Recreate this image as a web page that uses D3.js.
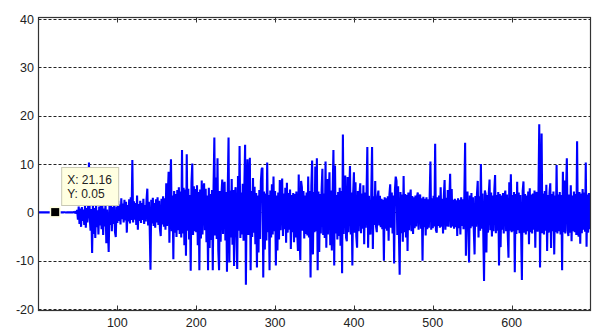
<!DOCTYPE html>
<html>
<head>
<meta charset="utf-8">
<script src="https://cdn.jsdelivr.net/npm/d3@7"></script>
<style>
  body { margin: 0; background: #fff; }
  svg { display: block; font-family: "Liberation Sans", Arial, sans-serif; }
</style>
</head>
<body>
<div id="chart"></div>
<script>
// tick values
const xTicks = [100, 200, 300, 400, 500, 600];
const yTicks = [-20, -10, 0, 10, 20, 30, 40];

// datatip
const tipX = 21.16;
const tipY = 0.05;

// signal, one sample per x unit starting at x = 0
const signalStart = 0;
const signal = [
  0,0,0.01,0,-0.01,0,0.02,0,0,0.01,0,-0.01,0,0,0.02,0,0,0.01,0,0,
  0.03,0.05,0.04,0,-0.02,0.01,0,0.02,0,-0.01,0,0.01,0,0.03,0,-0.02,0,0.01,0,0,
  0,0.02,0,-0.03,0.05,0,-0.1,0.2,-0.3,0.5,-1.5,1.2,-2.4,0.8,-3,1.1,-1.8,0.6,-2.6,1.4,
  -3.2,0.9,-2.1,1.5,10.3,-1.2,-3.8,0.7,-8.4,1.6,-4.5,0.9,-5.3,1.8,-3.1,0.4,-4.6,1.2,-2.7,2.1,
  -3.5,1.3,-4.7,0.8,-2.9,1.9,-6.4,0.6,-3.3,-8.2,1.4,-2.6,2.2,-3.9,1.1,-2.4,1.7,-4.1,-5.1,1.2,
  -2.2,2.4,-1.8,1.6,-2.5,2.9,-1.4,1.8,-2.1,2.6,-1.7,2.2,-4.2,1.5,-1.9,2.7,-2.3,3.1,-1.6,10.8,
  -2.1,2.3,-1.5,1.9,-2.6,3.5,-3.6,1.7,-1.8,2.4,-2.2,1.9,-1.6,2.8,-2.4,1.5,-1.9,2.6,4.9,-2.7,
  2.2,-3.1,-11.9,2.6,-2.3,3,-2.8,1.9,-3.2,2.7,-2.1,3.1,-2.6,2.4,-3.4,-4.9,2.8,-2.5,3.3,-3,
  2.9,-3.6,6,-2.8,3.7,8.4,-6.3,4.1,11,-3.9,3.5,-9.7,4.4,-4.2,3.8,-5.1,4.6,-3.7,5.2,-4.5,
  4.3,-5.2,12.9,-4.4,5.1,-6.8,4.7,-9,12,-3.8,4.9,-5.6,3.6,-12.1,6.2,10.1,-4.7,5.4,-3.9,4.8,
  -4.1,5.6,-6.8,4.2,-12,4.7,-5.4,6.6,-4.6,4.4,6,-3.7,4.9,-6.2,3.5,-12,5.1,-7.4,3.8,-5.7,
  4.6,-12,5.3,15.5,-4.8,7.2,-5.5,11.2,-7.8,-12,4.4,-6.1,3.7,6.8,-4.5,5,6.3,-5.8,4.2,-12.3,
  4.8,15.5,-10.4,4.5,-5.2,6.9,-6.7,4.6,-11.1,3.8,5.2,-4.4,-11.7,7.5,-3.8,13.7,-5.3,4.1,-4.6,5.9,
  -5.9,4.9,14,-15,4.2,11,-4.7,6.2,11.3,-12,4.4,-5.1,7.1,-4.2,5.3,-6.6,4,-11.4,3.5,-8.3,
  4.6,-5.5,6.4,9,9.2,-13.5,4.3,-7.7,3.9,-5.8,10.3,-4.1,3.6,-12,4.5,-5.2,5.8,-4.6,7.4,-3.9,
  4.4,-11,3.5,-7.9,4.1,-5.6,6.7,-3.7,4.6,7,-4.9,3.9,-3.5,5.1,-6.3,6.1,-4.2,4,-3.6,4.7,
  -7.6,3.6,-4.1,4,-6.2,3.8,-5.2,4.3,-3.7,-8,7.8,-4.6,-9.9,6.5,5.2,-3.8,4.4,-5.4,3.5,-4.5,
  4.1,-4.8,7.4,-5.2,4.4,-13.5,5.4,10.7,-8.7,4.2,-4.1,9.5,-3.9,11.2,-12,4.3,-8.2,3.8,-4.4,4.6,
  9,-4.7,3.9,-5.3,10.5,-7.3,6.9,-4.6,3.7,8.3,-6.8,4.5,-7.9,4,12.9,-11,9.7,-4.4,3.6,-5.6,
  4.2,-4.9,5.1,-6.9,4.4,-12.6,16.1,-4.5,3.9,7.6,-5.2,-6,7.3,-4.1,3.7,9.6,-4.6,4.1,-11,3.8,
  8.3,-4.2,6.2,-5,-7.3,4.4,-3.9,3.5,6,-4.3,3.9,-3.4,5.6,-6.6,4.1,-3.2,3.7,13.5,-7.3,3.4,
  -2.8,-4.6,3.9,13.5,-7.6,3.3,-2.6,6.5,-2.9,-4.1,3.2,4.5,-2.7,3.4,-3.1,2.8,-3.5,2.6,-10,3.1,
  -3.4,2.9,-3.8,3.3,-5.9,3.6,5.8,-3.2,4.1,-4.4,3.5,-10.6,4.6,7.4,6.5,-4.7,5.4,-3.9,-12.9,4.2,
  -4.3,3.7,-6.1,7.5,-4.1,3.8,-5.2,3.6,-8,4.1,-3.7,3.2,4.7,-3.9,3.4,-4.5,3.1,-3.3,3.5,-2.9,
  3.3,4.1,-3.6,3,3.7,-3.4,2.9,-10,3.2,-3.1,2.8,-4.8,3.1,-3.5,2.7,-3.2,3,10.5,-3.6,2.9,
  -3.3,3.4,-2.9,14.2,-3.7,-4.2,3.1,-2.8,3.5,-3.2,5.2,-3,2.8,-4.4,3.3,6.7,-3.6,3,-2.9,4.6,
  -3,2.7,8,-3.2,4.8,-2.9,2.6,-3.4,2.8,-3.1,2.5,-4.9,2.9,-3.3,2.6,-4.6,3.1,-2.8,2.7,-3.5,
  3.2,14.4,-9,2.8,4.3,-3.1,-10.4,3.5,-3.3,4,-2.9,3.1,-3.6,-8.7,3.4,-3,3.7,6.5,-5.2,3.3,
  -3.8,10,-3.4,3.9,-4.1,-14.2,4.5,3.8,-8.3,3.6,-4.2,3.9,6.8,-3.7,4.1,-5,3.5,-3.9,4.4,7.7,
  -4.3,3.6,-3.8,4.2,-11,3.8,-7.2,3.5,-3.6,4,-4.4,3.3,4.5,-3.9,3.7,-4.2,-9.4,6.2,-3.8,7.9,
  -4.1,3.6,-3.9,4.2,-12.4,3.8,-4.5,6.3,-3.7,4.1,-4.3,3.6,-3.9,-14,4.4,6.4,-4.2,3.8,-4.6,3.5,
  -3.9,4.3,-6.6,5,-4.1,3.7,-4.4,3.9,-3.6,4.5,-7.3,3.8,4.2,-4,3.6,18.2,-11.4,4.1,16.3,-4.3,
  3.9,-4.6,4.4,-3.8,5.7,-8,3.6,-4.2,4.1,6,-7.4,3.8,-3.9,4.3,-8.7,3.5,-4.1,9.8,-4.4,3.7,
  -3.9,4.2,-4.6,3.6,-12,8.4,-4.1,6.6,-4.4,4.1,11.2,-3.8,-4.9,3.7,-4.2,5.6,-6,3.5,-3.9,4.3,
  -4.1,3.8,-4.7,14.7,-3.9,-5,4.2,-6.5,3.9,-4.3,4.8,-3.6,4.1,-4,10.3,-7.1,3.7,-4.2,4,-3.5,
  3.2
];

const width = 595;
const height = 329;
const box = {left: 38.5, right: 590.5, top: 17.5, bottom: 310.5};

const x = d3.scaleLinear().domain([0, 700]).range([box.left, box.right]);
const y = d3.scaleLinear().domain([-20, 40]).range([309, 19]);

const svg = d3.select("#chart").append("svg")
  .attr("width", width)
  .attr("height", height);

// horizontal dashed grid
svg.append("g")
  .selectAll("line")
  .data(yTicks)
  .join("line")
  .attr("x1", box.left)
  .attr("x2", box.right)
  .attr("y1", d => Math.round(y(d)) + 0.5)
  .attr("y2", d => Math.round(y(d)) + 0.5)
  .attr("stroke", "#222")
  .attr("stroke-width", 1)
  .attr("stroke-dasharray", "3,2");

// the signal
const clip = svg.append("defs").append("clipPath").attr("id", "plot");
clip.append("rect")
  .attr("x", box.left).attr("y", box.top)
  .attr("width", box.right - box.left).attr("height", box.bottom - box.top);

const line = d3.line()
  .x((d, i) => x(signalStart + i))
  .y(d => y(d));

svg.append("path")
  .datum(signal)
  .attr("clip-path", "url(#plot)")
  .attr("fill", "none")
  .attr("stroke", "#0000ff")
  .attr("stroke-width", 2.1)
  .attr("stroke-linejoin", "bevel")
  .attr("d", line);

// axes box
svg.append("rect")
  .attr("x", box.left).attr("y", box.top)
  .attr("width", box.right - box.left).attr("height", box.bottom - box.top)
  .attr("fill", "none")
  .attr("stroke", "#333")
  .attr("stroke-width", 1.2);

// inward ticks on top and bottom
const ticks = svg.append("g").attr("stroke", "#333").attr("stroke-width", 1);
ticks.selectAll(".tb")
  .data(xTicks)
  .join("line")
  .attr("class", "tb")
  .attr("x1", d => Math.round(x(d)) + 0.5).attr("x2", d => Math.round(x(d)) + 0.5)
  .attr("y1", box.bottom).attr("y2", box.bottom - 5);
ticks.selectAll(".tt")
  .data(xTicks)
  .join("line")
  .attr("class", "tt")
  .attr("x1", d => Math.round(x(d)) + 0.5).attr("x2", d => Math.round(x(d)) + 0.5)
  .attr("y1", box.top).attr("y2", box.top + 5);

// tick labels
svg.append("g")
  .selectAll("text")
  .data(xTicks)
  .join("text")
  .attr("x", d => x(d))
  .attr("y", 326.5)
  .attr("text-anchor", "middle")
  .attr("fill", "#222")
  .style("font-size", "12.5px")
  .text(d => d);

svg.append("g")
  .selectAll("text")
  .data(yTicks)
  .join("text")
  .attr("x", 34)
  .attr("y", d => y(d))
  .attr("dy", "0.36em")
  .attr("text-anchor", "end")
  .attr("fill", "#222")
  .style("font-size", "12.5px")
  .text(d => d);

// datatip
svg.append("rect")
  .attr("x", x(tipX) - 5.5)
  .attr("y", y(tipY) - 5.5)
  .attr("width", 11)
  .attr("height", 11)
  .attr("fill", "#ffffe1");
svg.append("rect")
  .attr("x", x(tipX) - 4)
  .attr("y", y(tipY) - 4)
  .attr("width", 8)
  .attr("height", 8)
  .attr("fill", "#000");

const tip = svg.append("g").attr("transform", `translate(${x(tipX) + 6.5},167.5)`);
tip.append("rect")
  .attr("width", 57)
  .attr("height", 38)
  .attr("fill", "#ffffe1")
  .attr("stroke", "#c8c8b4")
  .attr("stroke-width", 1);
tip.append("text")
  .attr("x", 5.5)
  .attr("y", 16)
  .attr("fill", "#222")
  .style("font-size", "12px")
  .text(`X: ${tipX}`);
tip.append("text")
  .attr("x", 5.5)
  .attr("y", 30)
  .attr("fill", "#222")
  .style("font-size", "12px")
  .text(`Y: ${tipY}`);
</script>
</body>
</html>
